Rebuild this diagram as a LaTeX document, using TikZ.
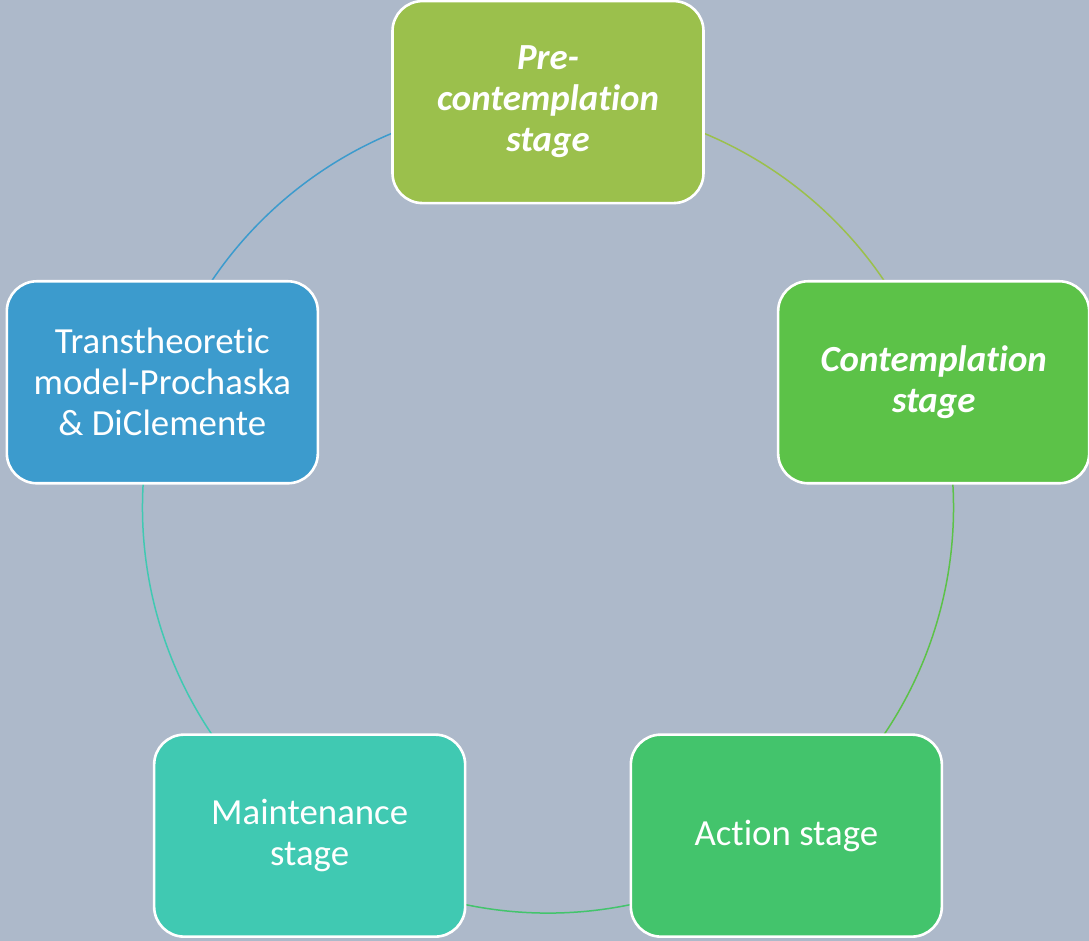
\documentclass[tikz,border=0pt]{standalone}
\usepackage{fontspec}
\setmainfont{Carlito}[Ligatures=NoCommon]
\usetikzlibrary{calc, positioning}
\definecolor{SlateBack}{RGB}{173, 185, 202}
\definecolor{OliveGreen}{RGB}{155, 192, 76}
\definecolor{LeafGreen}{RGB}{92, 194, 72}
\definecolor{MintGreen}{RGB}{67, 196, 108}
\definecolor{TealGreen}{RGB}{64, 201, 178}
\definecolor{SkyBlue}{RGB}{60, 155, 205}

\begin{document}
\begin{tikzpicture}[x=0.5pt, y=0.5pt,
    stage/.style={draw=white, line width=1.3pt, rounded corners=15pt,
        minimum width=155.5pt, minimum height=101pt, align=center,
        text=white, font=\fontsize{18.4}{20.5}\selectfont},
    boldstage/.style={stage, font=\fontsize{18.4}{20.5}\selectfont\bfseries\itshape},
    cycle/.style={line width=0.75pt}]
    % Fondo
    \fill[SlateBack] (0,0) rectangle (1089,941);
    \useasboundingbox (0,0) rectangle (1089,941);
    \coordinate (c) at (548,433.4);

    % Posiciones en el circulo
    \coordinate (p1) at ($(c)+(90:405.5)$);
    \coordinate (p2) at ($(c)+(18:405.5)$);
    \coordinate (p3) at ($(c)+(-54:405.5)$);
    \coordinate (p4) at ($(c)+(-126:405.5)$);
    \coordinate (p5) at ($(c)+(162:405.5)$);

    % Ciclo
    \draw[cycle, OliveGreen] (p1) arc[start angle=90, end angle=18, radius=405.5];
    \draw[cycle, LeafGreen] (p2) arc[start angle=18, end angle=-54, radius=405.5];
    \draw[cycle, MintGreen] (p3) arc[start angle=-54, end angle=-126, radius=405.5];
    \draw[cycle, TealGreen] (p4) arc[start angle=-126, end angle=-198, radius=405.5];
    \draw[cycle, SkyBlue] (p5) arc[start angle=162, end angle=90, radius=405.5];

    % Etapas
    \node[boldstage, fill=OliveGreen] (pre) at (p1) {Pre-\\contemplation\\stage};
    \node[boldstage, fill=LeafGreen] (contemp) at (p2) {Contemplation\\stage};
    \node[stage, fill=MintGreen] (action) at (p3) {Action stage};
    \node[stage, fill=TealGreen] (maint) at (p4) {Maintenance\\stage};
    \node[stage, fill=SkyBlue] (model) at (p5) {Transtheoretic\\model-Prochaska\\\& DiClemente};
\end{tikzpicture}
\end{document}
